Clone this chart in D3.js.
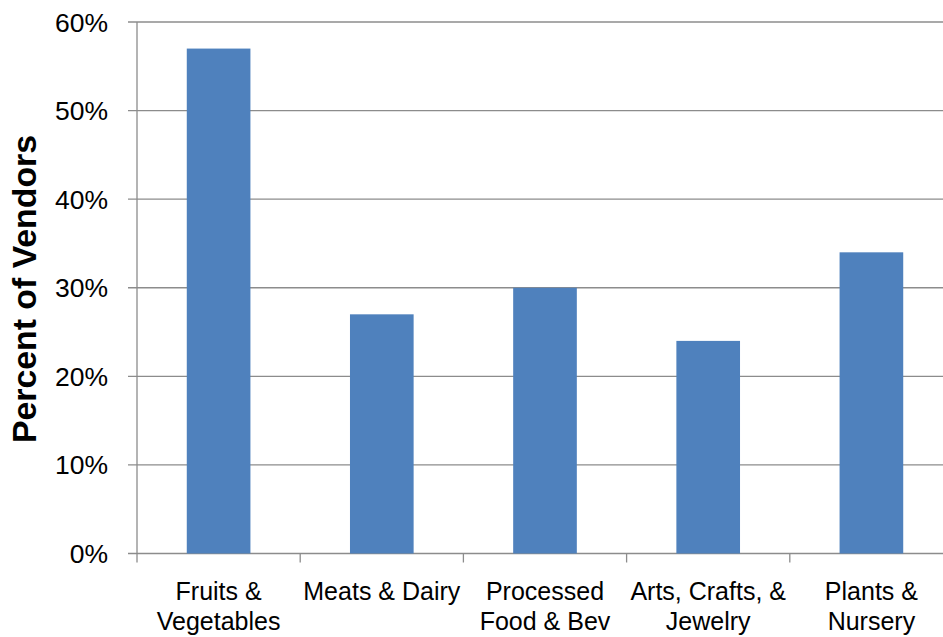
<!DOCTYPE html>
<html>
<head>
<meta charset="utf-8">
<script src="https://cdn.jsdelivr.net/npm/d3@7"></script>
<style>
  html, body { margin: 0; padding: 0; background: #fff; }
  svg { display: block; font-family: "Liberation Sans", Arial, sans-serif; }
</style>
</head>
<body>
<svg id="chart" width="943" height="637"></svg>
<script>
// Share of vendors selling each product type
const categories = ["Fruits & Vegetables", "Meats & Dairy", "Processed Food & Bev", "Arts, Crafts, & Jewelry", "Plants & Nursery"];
const categoryLines = [["Fruits &", "Vegetables"], ["Meats & Dairy"], ["Processed", "Food & Bev"], ["Arts, Crafts, &", "Jewelry"], ["Plants &", "Nursery"]];
const values = [57, 27, 30, 24, 34];
const yTicks = [0, 10, 20, 30, 40, 50, 60];

const svg = d3.select("#chart");
const plotLeft = 137, plotRight = 953, plotTop = 22, plotBottom = 553.5;
const gridColor = "#8c8c8c";

const x = d3.scaleBand().domain(categories).range([plotLeft, plotRight]).paddingInner(0.61).paddingOuter(0.305);
const xBands = d3.scaleBand().domain(categories).range([plotLeft, plotRight]);
const y = d3.scaleLinear().domain([0, 60]).range([plotBottom, plotTop]);

// horizontal gridlines with short ticks left of the axis
svg.append("g").selectAll("line").data(yTicks).join("line")
  .attr("x1", plotLeft - 9).attr("x2", plotRight)
  .attr("y1", d => y(d)).attr("y2", d => y(d))
  .attr("stroke", gridColor).attr("stroke-width", 1.3);

// vertical axis line
svg.append("line")
  .attr("x1", plotLeft).attr("x2", plotLeft).attr("y1", plotTop).attr("y2", plotBottom)
  .attr("stroke", gridColor).attr("stroke-width", 1.3);

// category boundary ticks below the baseline
const boundaries = categories.map(c => xBands(c)).concat([plotRight]);
svg.append("g").selectAll("line").data(boundaries).join("line")
  .attr("x1", d => d).attr("x2", d => d)
  .attr("y1", plotBottom).attr("y2", plotBottom + 9)
  .attr("stroke", gridColor).attr("stroke-width", 1.3);

// bars
svg.append("g").selectAll("rect").data(values).join("rect")
  .attr("x", (d, i) => x(categories[i]))
  .attr("width", x.bandwidth())
  .attr("y", d => y(d))
  .attr("height", d => y(0) - y(d))
  .attr("fill", "#4f81bd");

// y tick labels
svg.append("g").selectAll("text").data(yTicks).join("text")
  .attr("x", 108).attr("y", d => y(d) + 9.5)
  .attr("text-anchor", "end")
  .attr("font-size", 26.5)
  .attr("fill", "#000")
  .text(d => d + "%");

// category labels
const labelGroups = svg.append("g").selectAll("text").data(categories).join("text")
  .attr("text-anchor", "middle")
  .attr("font-size", 25)
  .attr("fill", "#000");
labelGroups.each(function(c, i) {
  const cx = xBands(c) + xBands.bandwidth() / 2;
  d3.select(this).selectAll("tspan").data(categoryLines[i]).join("tspan")
    .attr("x", cx)
    .attr("y", (d, j) => 600 + j * 30)
    .text(d => d);
});

// y axis title
svg.append("text")
  .attr("transform", "translate(36,289) rotate(-90)")
  .attr("text-anchor", "middle")
  .attr("font-size", 33.8)
  .attr("font-weight", "bold")
  .attr("fill", "#000")
  .text("Percent of Vendors");
</script>
</body>
</html>
